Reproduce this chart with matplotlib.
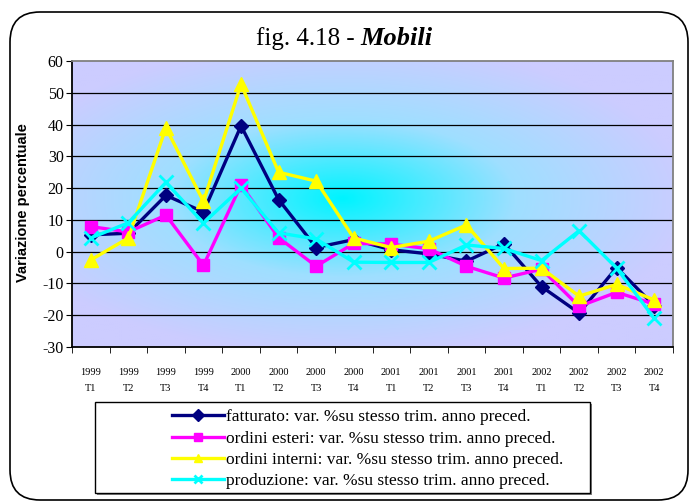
import numpy as np
import matplotlib
matplotlib.use("Agg")
import matplotlib.pyplot as plt
from matplotlib.patches import FancyBboxPatch, Rectangle
from matplotlib.colors import LinearSegmentedColormap

plt.rcParams['axes.unicode_minus'] = False

# quarters (anno / trimestre)
years = ['1999'] * 4 + ['2000'] * 4 + ['2001'] * 4 + ['2002'] * 4
quarters = ['T1', 'T2', 'T3', 'T4'] * 4
tick_labels = [y + '\n' + q for y, q in zip(years, quarters)]

fatturato = [5.3, 5.8, 17.7, 12.5, 39.6, 16.4, 1.3, 3.8,
             0.6, -0.7, -3.0, 2.5, -11.0, -19.3, -5.0, -17.0]
ordini_esteri = [7.9, 6.2, 11.5, -4.3, 21.0, 4.4, -4.6, 2.6,
                 2.4, 0.9, -4.6, -8.3, -5.5, -17.2, -12.8, -16.5]
ordini_interni = [-2.6, 4.3, 39.0, 15.8, 52.7, 25.0, 22.2, 4.3,
                  1.3, 3.3, 8.4, -5.3, -5.2, -14.0, -10.3, -15.2]
produzione = [4.3, 9.1, 21.8, 9.0, 20.0, 5.9, 4.0, -3.3,
              -3.4, -3.4, 2.1, 1.0, -2.8, 6.6, -5.2, -21.0]

series = [
    ('fatturato: var. %su stesso trim. anno preced.', fatturato, '#000080', 'D', 7),
    ('ordini esteri: var. %su stesso trim. anno preced.', ordini_esteri, '#FF00FF', 's', 9),
    ('ordini interni: var. %su stesso trim. anno preced.', ordini_interni, '#FFFF00', '^', 10),
    ('produzione: var. %su stesso trim. anno preced.', produzione, '#00FFFF', 'x', 10),
]

serif = ['Liberation Serif', 'DejaVu Serif']

fig = plt.figure(figsize=(6.91, 5.04), dpi=100)

# rounded outer frame
frame = FancyBboxPatch((0.10 + 0.3, 0.04 + 0.3), 6.78 - 0.6, 4.88 - 0.6,
                       boxstyle='round,pad=0.3', transform=fig.dpi_scale_trans,
                       facecolor='white', edgecolor='black', linewidth=1.2)
fig.patches.append(frame)

ax = fig.add_axes([72 / 691, 1 - 347 / 504, 601 / 691, 286 / 504])
ax.set_zorder(2)

# radial gradient background
cmap = LinearSegmentedColormap.from_list('bg', ['#00F4FF', '#9FDFFF', '#CCCCFF'])
gx, gy = np.meshgrid(np.linspace(0, 1, 300), np.linspace(0, 1, 300))
d = np.sqrt(((gx - 0.45) / 0.58) ** 2 + ((gy - 0.52) / 0.55) ** 2)
ax.imshow(np.clip(d, 0, 1), cmap=cmap, extent=[-0.5, 15.5, -30, 60],
          aspect='auto', origin='lower', zorder=0, interpolation='bilinear')

x = np.arange(len(tick_labels))
for label, vals, color, marker, ms in series:
    ax.plot(x, vals, color=color, linewidth=2.4, marker=marker,
            markersize=ms, markeredgewidth=2 if marker == 'x' else 1,
            markeredgecolor=color, label=label, zorder=3)

ax.set_xlim(-0.5, 15.5)
ax.set_ylim(-30, 60)
ax.set_yticks(np.arange(-30, 61, 10))
for v in range(-20, 60, 10):
    ax.axhline(v, color='black', linewidth=0.9, zorder=1)

ax.set_xticks(x)
ax.set_xticklabels(tick_labels, fontfamily=serif, fontsize=7.5, linespacing=2.0)
ax.set_xticks(np.arange(-0.5, 16, 1), minor=True)
ax.tick_params(axis='x', which='major', length=0, pad=15)
ax.tick_params(axis='x', which='minor', length=4, direction='out')
ax.tick_params(axis='y', length=4, direction='out', pad=2)
for t in ax.get_yticklabels():
    t.set_fontfamily(serif)
    t.set_fontsize(11.5)

ax.spines['left'].set_color('black')
ax.spines['bottom'].set_color('black')
ax.spines['top'].set_color('#808080')
ax.spines['right'].set_color('#808080')
for s in ax.spines.values():
    s.set_linewidth(1.3)

fig.text(23 / 691, 1 - 203 / 504, 'Variazione percentuale', rotation=90,
         ha='center', va='center', fontsize=10.5, fontweight='bold',
         fontfamily=['Liberation Sans', 'DejaVu Sans'])

# title
fig.text(0.522, 1 - 45 / 504, 'fig. 4.18 - ', ha='right', va='baseline',
         fontsize=18, fontfamily=serif)
fig.text(0.522, 1 - 45 / 504, 'Mobili', ha='left', va='baseline', fontsize=19,
         fontfamily=serif, fontweight='bold', fontstyle='italic')

# legend box
fig.patches.append(Rectangle((97 / 691, 1 - 495 / 504), 495 / 691, 91 / 504,
                             transform=fig.transFigure, facecolor='#808080',
                             edgecolor='none', zorder=1))
fig.patches.append(Rectangle((95 / 691, 1 - 493 / 504), 495 / 691, 91 / 504,
                             transform=fig.transFigure, facecolor='white',
                             edgecolor='black', linewidth=1, zorder=1))
handles, labels = ax.get_legend_handles_labels()
leg = fig.legend(handles, labels, loc='upper left',
                 bbox_to_anchor=(160 / 691, 1 - 397 / 504), frameon=False,
                 prop={'family': serif, 'size': 12.5}, handlelength=3.0,
                 handletextpad=0.1, labelspacing=0.3, borderpad=0.2)
for h in leg.legend_handles:
    h.set_markersize(6)

fig.savefig('out.png', dpi=100)
